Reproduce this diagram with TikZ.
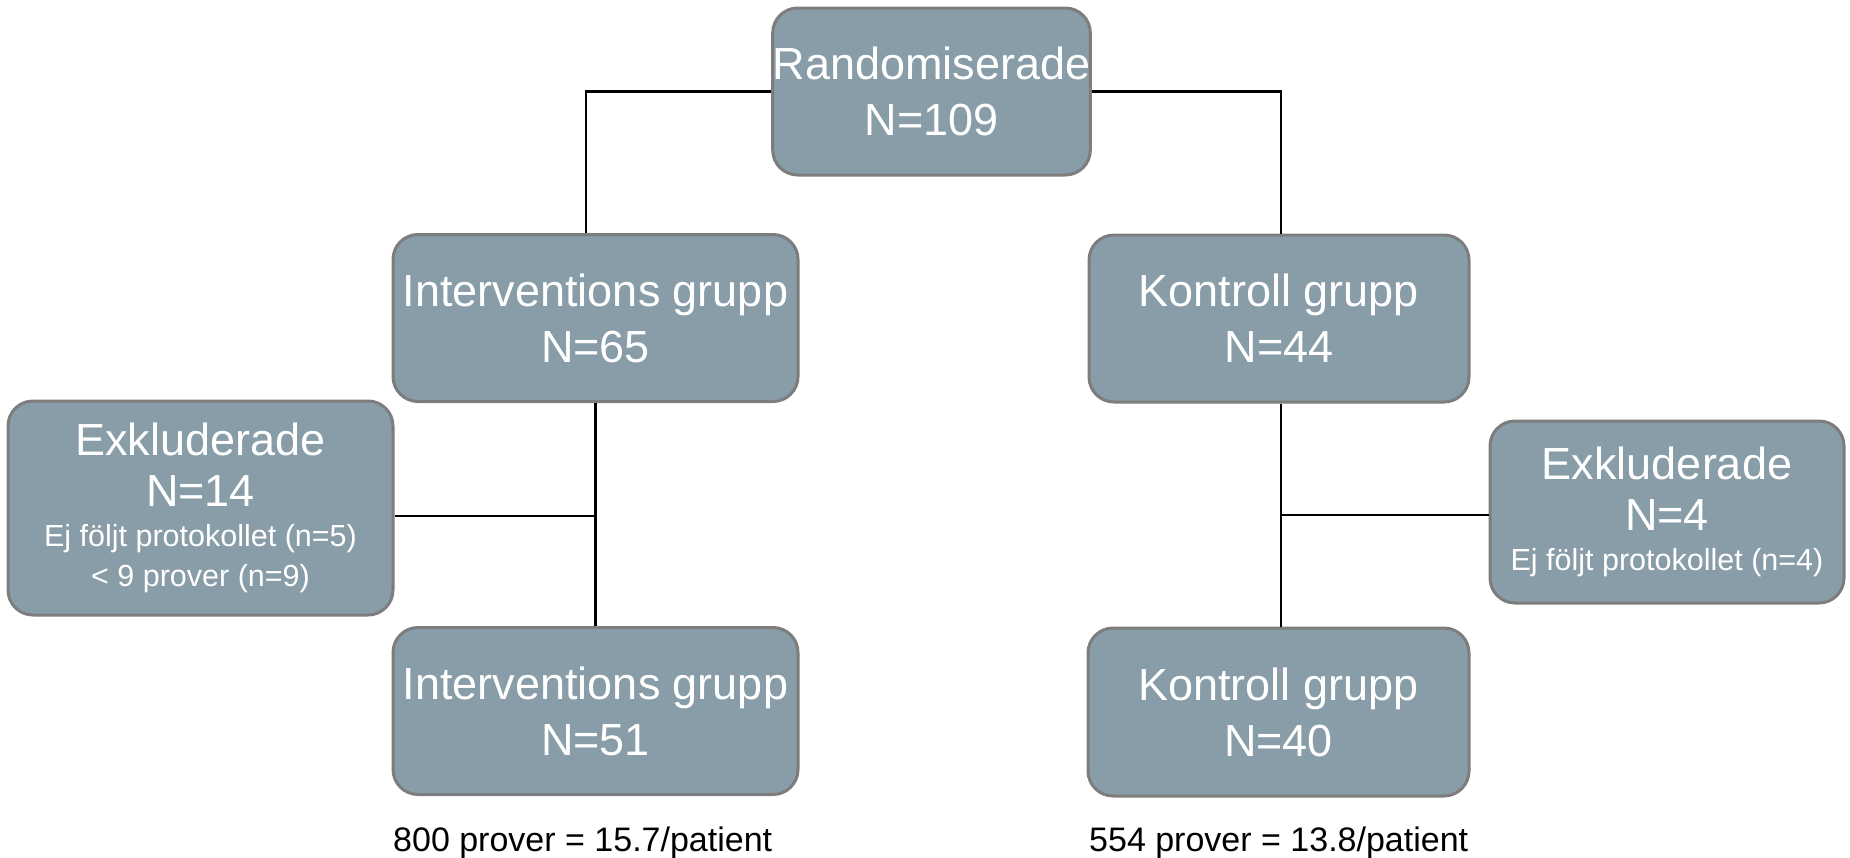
\documentclass[tikz,border=0pt]{standalone}
\usepackage{fontspec}
\setmainfont{Liberation Sans}
\definecolor{boxfill}{RGB}{136,157,167}
\definecolor{boxline}{RGB}{125,125,125}
\newcommand{\smalltxt}{\fontsize{30.5}{40}\selectfont}
\begin{document}
\begin{tikzpicture}[x=1pt,y=1pt,
  box/.style={draw=boxline, line width=3pt, fill=boxfill, rounded corners=25pt,
    inner sep=0pt, align=center, text=white, font=\fontsize{45}{56}\selectfont},
  exbox/.style={box, font=\fontsize{45}{51}\selectfont},
  link/.style={draw=black, line width=2.5pt},
  note/.style={inner sep=0pt, anchor=base west, font=\fontsize{34}{40}\selectfont}]
\useasboundingbox (0,0) rectangle (1850,-857);
\node[box, minimum width=317, minimum height=167] (rand) at (931.5,-91.5) {Randomiserade\\N=109};
\node[box, minimum width=405, minimum height=167] (int1) at (595.5,-318) {Interventions grupp\\N=65};
\node[box, minimum width=380, minimum height=167] (kon1) at (1279,-318.5) {Kontroll grupp\\N=44};
\node[exbox, minimum width=385, minimum height=214] (exL) at (200.5,-508) {Exkluderade\\N=14\\[-11pt]\smalltxt Ej följt protokollet (n=5)\\[-11pt]\smalltxt {<} 9 prover (n=9)};
\node[box, minimum width=405, minimum height=167] (int2) at (595.5,-711) {Interventions grupp\\N=51};
\node[box, minimum width=381, minimum height=168] (kon2) at (1278.5,-712) {Kontroll grupp\\N=40};
\node[exbox, minimum width=354, minimum height=182] (exR) at (1667,-512) {Exkluderade\\N=4\\[-11pt]\smalltxt Ej följt protokollet (n=4)};
\node[note] (tL) at (393,-851) {800 prover = 15.7/patient};
\node[note] (tR) at (1089,-851) {554 prover = 13.8/patient};
\draw[link] (rand.west) -| ([xshift=-9.5pt]int1.north);
\draw[link] (rand.east) -| ([xshift=2pt]kon1.north);
\draw[link] (int1.south) -- (int2.north);
\draw[link] ([xshift=2pt]kon1.south) -- ([xshift=2.5pt]kon2.north);
\draw[link] ([yshift=-8pt]exL.east) -- ([yshift=-8pt]exL.east -| int1.south);
\draw[link] ([yshift=-3pt]exR.west) -- ([yshift=-3pt,xshift=2pt]exR.west -| kon1.south);
\end{tikzpicture}
\end{document}
